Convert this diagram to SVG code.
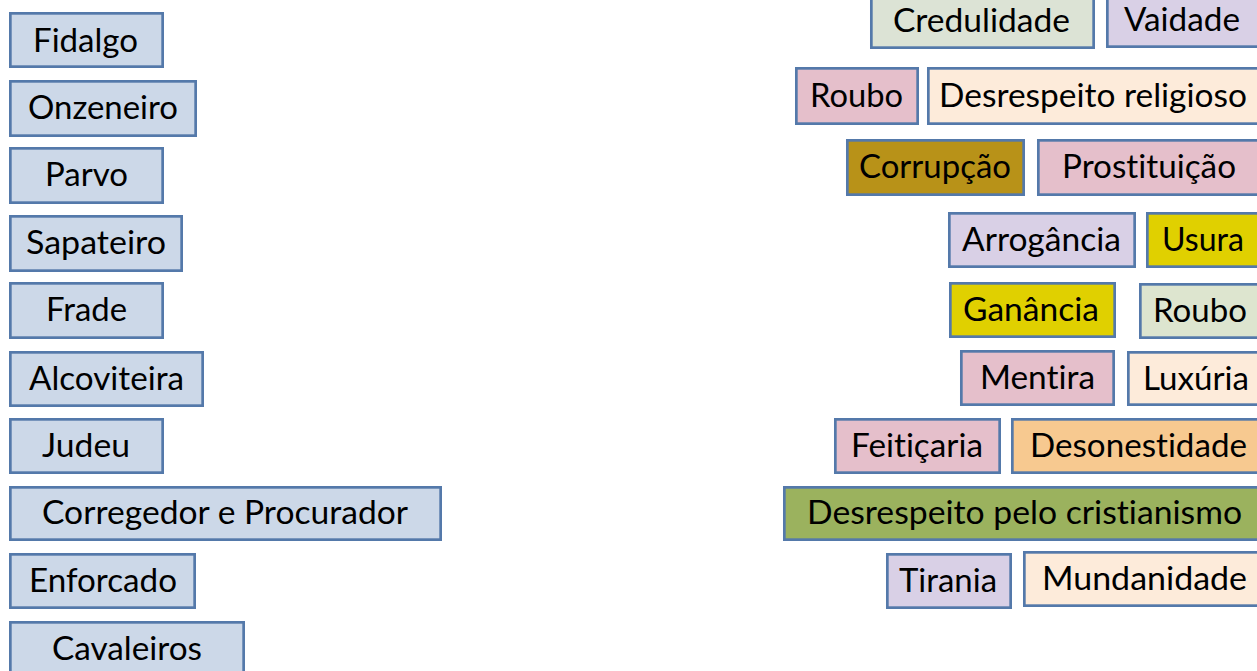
<svg xmlns="http://www.w3.org/2000/svg" width="1257" height="671" viewBox="0 0 1257 671">
<style>
g rect{stroke:#5479AA;stroke-width:2.7}
text{font-family:Lato,"Open Sans","Liberation Sans",sans-serif;font-size:32px;fill:#000;font-variant-ligatures:none;font-feature-settings:"liga" 0,"dlig" 0}
.b{fill:#CCD8E8}.g{fill:#DCE3D5}.v{fill:#D9D0E6}.p{fill:#E5BFCB}.c{fill:#FDEBDA}.gold{fill:#B89218}.y{fill:#E0D000}.o{fill:#F7C990}.gr{fill:#9BB25E}.lg{fill:#DDE5CF}
</style>
<rect width="1257" height="671" fill="#fff"/>
<g id="fidalgo"><rect class="b" x="10.35" y="13.35" width="152.3" height="53.3"/><text x="33" y="52" textLength="105" lengthAdjust="spacingAndGlyphs">Fidalgo</text></g>
<g id="onzeneiro"><rect class="b" x="10.35" y="81.35" width="185.3" height="54.3"/><text x="28" y="119" textLength="150" lengthAdjust="spacingAndGlyphs">Onzeneiro</text></g>
<g id="parvo"><rect class="b" x="10.35" y="148.35" width="152.3" height="54.3"/><text x="45" y="186" textLength="83" lengthAdjust="spacingAndGlyphs">Parvo</text></g>
<g id="sapateiro"><rect class="b" x="10.35" y="216.35" width="171.3" height="54.3"/><text x="26" y="254" textLength="140" lengthAdjust="spacingAndGlyphs">Sapateiro</text></g>
<g id="frade"><rect class="b" x="10.35" y="283.35" width="152.3" height="54.3"/><text x="46" y="321" textLength="81" lengthAdjust="spacingAndGlyphs">Frade</text></g>
<g id="alcoviteira"><rect class="b" x="10.35" y="352.35" width="192.3" height="53.3"/><text x="29" y="390" textLength="155" lengthAdjust="spacingAndGlyphs">Alcoviteira</text></g>
<g id="judeu"><rect class="b" x="10.35" y="419.35" width="152.3" height="53.3"/><text x="42" y="457" textLength="88" lengthAdjust="spacingAndGlyphs">Judeu</text></g>
<g id="corregedor"><rect class="b" x="10.35" y="487.35" width="430.3" height="52.3"/><text x="42" y="524" textLength="366" lengthAdjust="spacingAndGlyphs">Corregedor e Procurador</text></g>
<g id="enforcado"><rect class="b" x="10.35" y="554.35" width="184.3" height="53.3"/><text x="29" y="592" textLength="148" lengthAdjust="spacingAndGlyphs">Enforcado</text></g>
<g id="cavaleiros"><rect class="b" x="10.35" y="622.35" width="233.3" height="54.3"/><text x="52" y="660" textLength="150" lengthAdjust="spacingAndGlyphs">Cavaleiros</text></g>

<g id="credulidade"><rect class="g" x="871.35" y="-6.65" width="222.3" height="54.3"/><text x="893" y="32" textLength="177" lengthAdjust="spacingAndGlyphs">Credulidade</text></g>
<g id="vaidade"><rect class="v" x="1107.35" y="-6.65" width="162.3" height="53.3"/><text x="1124" y="31" textLength="116" lengthAdjust="spacingAndGlyphs">Vaidade</text></g>
<g id="roubo1"><rect class="p" x="796.35" y="68.35" width="121.3" height="55.3"/><text x="810" y="107" textLength="93" lengthAdjust="spacingAndGlyphs">Roubo</text></g>
<g id="desrespeito-religioso"><rect class="c" x="928.35" y="68.35" width="341.3" height="55.3"/><text x="939" y="107" textLength="308" lengthAdjust="spacingAndGlyphs">Desrespeito religioso</text></g>
<g id="corrupcao"><rect class="gold" x="847.35" y="140.35" width="176.3" height="54.3"/><text x="859" y="178" textLength="152" lengthAdjust="spacingAndGlyphs">Corrupção</text></g>
<g id="prostituicao"><rect class="p" x="1038.35" y="140.35" width="231.3" height="54.3"/><text x="1062" y="178" textLength="174" lengthAdjust="spacingAndGlyphs">Prostituição</text></g>
<g id="arrogancia"><rect class="v" x="949.35" y="213.35" width="185.3" height="53.3"/><text x="962" y="251" textLength="159" lengthAdjust="spacingAndGlyphs">Arrogância</text></g>
<g id="usura"><rect class="y" x="1147.35" y="213.35" width="122.3" height="53.3"/><text x="1162" y="251" textLength="82" lengthAdjust="spacingAndGlyphs">Usura</text></g>
<g id="ganancia"><rect class="y" x="950.35" y="283.35" width="164.3" height="53.3"/><text x="963" y="321" textLength="136" lengthAdjust="spacingAndGlyphs">Ganância</text></g>
<g id="roubo2"><rect class="lg" x="1140.35" y="284.35" width="129.3" height="53.3"/><text x="1153" y="322" textLength="94" lengthAdjust="spacingAndGlyphs">Roubo</text></g>
<g id="mentira"><rect class="p" x="961.35" y="351.35" width="152.3" height="53.3"/><text x="980" y="389" textLength="115" lengthAdjust="spacingAndGlyphs">Mentira</text></g>
<g id="luxuria"><rect class="c" x="1128.35" y="352.35" width="141.3" height="52.3"/><text x="1143" y="390" textLength="106" lengthAdjust="spacingAndGlyphs">Luxúria</text></g>
<g id="feiticaria"><rect class="p" x="835.35" y="419.35" width="164.3" height="53.3"/><text x="851" y="457" textLength="132" lengthAdjust="spacingAndGlyphs">Feitiçaria</text></g>
<g id="desonestidade"><rect class="o" x="1012.35" y="419.35" width="257.3" height="53.3"/><text x="1030" y="457" textLength="217" lengthAdjust="spacingAndGlyphs">Desonestidade</text></g>
<g id="desrespeito-cristianismo"><rect class="gr" x="784.35" y="487.35" width="485.3" height="52.3"/><text x="807" y="524" textLength="435" lengthAdjust="spacingAndGlyphs">Desrespeito pelo cristianismo</text></g>
<g id="tirania"><rect class="v" x="887.35" y="554.35" width="123.3" height="53.3"/><text x="899" y="592" textLength="98" lengthAdjust="spacingAndGlyphs">Tirania</text></g>
<g id="mundanidade"><rect class="c" x="1024.35" y="552.35" width="245.3" height="53.3"/><text x="1042" y="590" textLength="205" lengthAdjust="spacingAndGlyphs">Mundanidade</text></g>
<g id="connectors"></g>
</svg>
